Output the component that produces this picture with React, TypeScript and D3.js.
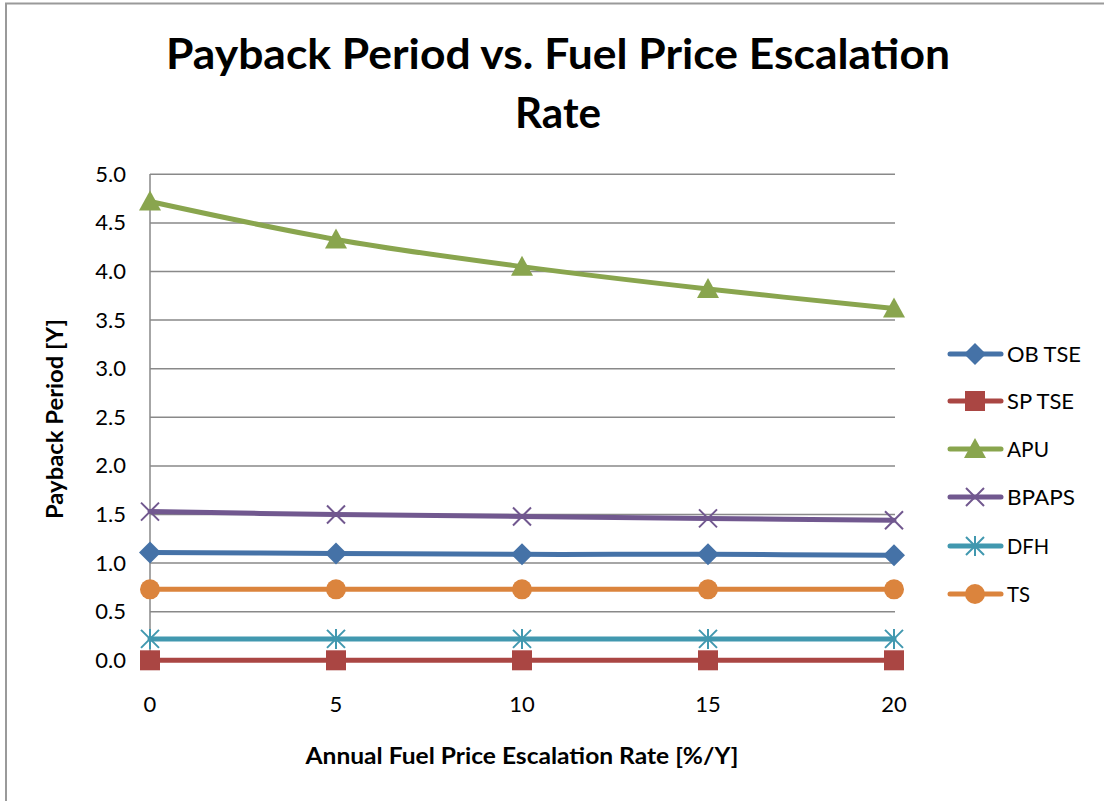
import React from "react";
import * as d3 from "d3";

const xCategories = [0, 5, 10, 15, 20];
const yTicks = [0, 0.5, 1, 1.5, 2, 2.5, 3, 3.5, 4, 4.5, 5];
const obTse = [1.11, 1.1, 1.09, 1.09, 1.08];
const spTse = [0.0, 0.0, 0.0, 0.0, 0.0];
const apu = [4.72, 4.33, 4.05, 3.82, 3.62];
const bpaps = [1.53, 1.5, 1.48, 1.46, 1.44];
const dfh = [0.22, 0.22, 0.22, 0.22, 0.22];
const ts = [0.73, 0.73, 0.73, 0.73, 0.73];

const seriesNames = ["OB TSE", "SP TSE", "APU", "BPAPS", "DFH", "TS"];
const seriesColors = ["#4572A7", "#AA4643", "#89A54E", "#71588F", "#4198AF", "#DB843D"];
const seriesMarkers = ["diamond", "square", "triangle", "x", "star", "circle"];
const seriesData = [obTse, spTse, apu, bpaps, dfh, ts];

const FONT = "Lato, 'Open Sans', 'Liberation Sans', sans-serif";

function Marker({ type, x, y, color }: { type: string; x: number; y: number; color: string }) {
  if (type === "diamond") {
    const s = 11;
    return <path d={`M${x},${y - s}L${x + s},${y}L${x},${y + s}L${x - s},${y}Z`} fill={color} />;
  }
  if (type === "square") {
    return <rect x={x - 10} y={y - 10} width={20} height={20} fill={color} />;
  }
  if (type === "triangle") {
    return <path d={`M${x},${y - 11}L${x + 11},${y + 9}L${x - 11},${y + 9}Z`} fill={color} />;
  }
  if (type === "circle") {
    return <circle cx={x} cy={y} r={10} fill={color} />;
  }
  if (type === "x") {
    const s = 9;
    return (
      <path
        d={`M${x - s},${y - s}L${x + s},${y + s}M${x - s},${y + s}L${x + s},${y - s}`}
        stroke={color}
        strokeWidth={2}
      />
    );
  }
  const s = 9;
  return (
    <path
      d={`M${x - s},${y - s}L${x + s},${y + s}M${x - s},${y + s}L${x + s},${y - s}M${x},${y - s - 1}L${x},${y + s + 1}`}
      stroke={color}
      strokeWidth={2}
    />
  );
}

export default function App() {
  const W = 1104;
  const H = 801;
  const x = d3.scalePoint<number>().domain(xCategories).range([150, 894]);
  const y = d3.scaleLinear().domain([0, 5]).range([660.3, 174.3]);
  const line = d3
    .line<number>()
    .x((_, i) => x(xCategories[i]) as number)
    .y((d) => y(d))
    .curve(d3.curveCatmullRom.alpha(0.5));

  const legendY = [354, 401, 449, 497, 546, 594];
  const legendLen = [74, 67, 42, 68, 42, 23];

  return (
    <svg
      width={W}
      height={H}
      style={{ position: "absolute", left: 0, top: 0, background: "#fff" }}
      fontFamily={FONT}
    >
      <rect x={0} y={0} width={W} height={H} fill="#fff" />
      <rect x={6} y={3.5} width={W + 10} height={H + 10} fill="none" stroke="#9a9a9a" strokeWidth={2} />

      <text x={558} y={69} textAnchor="middle" fontSize={42} fontWeight="bold" textLength={784} lengthAdjust="spacingAndGlyphs">
        Payback Period vs. Fuel Price Escalation
      </text>
      <text x={558} y={128} textAnchor="middle" fontSize={42} fontWeight="bold" textLength={86} lengthAdjust="spacingAndGlyphs">
        Rate
      </text>

      {yTicks.map((t) => (
        <g key={t}>
          <line x1={150} x2={895} y1={y(t)} y2={y(t)} stroke="#898989" strokeWidth={1.5} />
          <text x={126} y={y(t) + 7.5} textAnchor="end" fontSize={22}>
            {t.toFixed(1)}
          </text>
        </g>
      ))}
      <line x1={150} x2={150} y1={174} y2={661} stroke="#898989" strokeWidth={1.5} />

      {xCategories.map((c) => (
        <text key={c} x={x(c)} y={712} textAnchor="middle" fontSize={22}>
          {c}
        </text>
      ))}

      <text x={522} y={764} textAnchor="middle" fontSize={22} fontWeight="bold" textLength={433} lengthAdjust="spacingAndGlyphs">
        Annual Fuel Price Escalation Rate [%/Y]
      </text>
      <text
        transform={`translate(63,419) rotate(-90)`}
        textAnchor="middle"
        fontSize={22}
        fontWeight="bold"
        textLength={200}
        lengthAdjust="spacingAndGlyphs"
      >
        Payback Period [Y]
      </text>

      {seriesData.map((data, si) => (
        <g key={seriesNames[si]}>
          <path d={line(data) || ""} fill="none" stroke={seriesColors[si]} strokeWidth={5} strokeLinecap="round" />
          {data.map((d, i) => (
            <Marker key={i} type={seriesMarkers[si]} x={x(xCategories[i]) as number} y={y(d)} color={seriesColors[si]} />
          ))}
        </g>
      ))}

      {seriesNames.map((n, si) => (
        <g key={n}>
          <line x1={950} x2={1001} y1={legendY[si]} y2={legendY[si]} stroke={seriesColors[si]} strokeWidth={5} strokeLinecap="round" />
          <Marker type={seriesMarkers[si]} x={975} y={legendY[si]} color={seriesColors[si]} />
          <text x={1007} y={legendY[si] + 8} fontSize={22} textLength={legendLen[si]} lengthAdjust="spacingAndGlyphs">
            {n}
          </text>
        </g>
      ))}
    </svg>
  );
}
